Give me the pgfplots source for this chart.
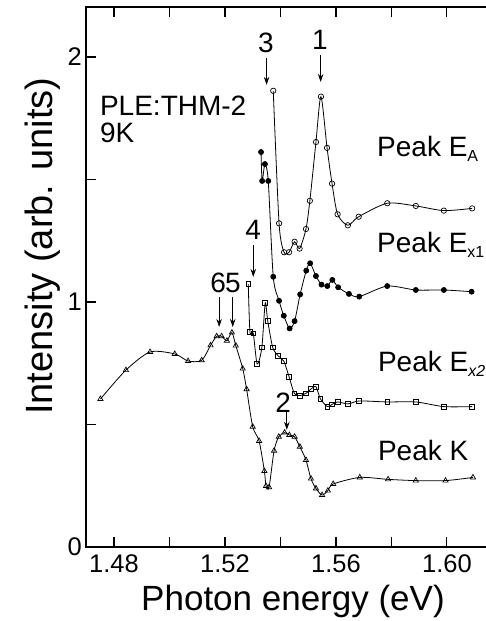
\documentclass[border=0pt]{standalone}
\usepackage{fontspec}
\setmainfont{Liberation Sans}
\usepackage{pgfplots}
\usepackage{pgfplotstable}
\pgfplotsset{compat=1.18}
\usetikzlibrary{arrows.meta}

\pgfplotstableread{
x y
1.5374 1.862
1.5395 1.321
1.5413 1.203
1.5431 1.203
1.5451 1.246
1.5469 1.218
1.5492 1.298
1.5506 1.413
1.5528 1.653
1.5546 1.838
1.5568 1.629
1.5586 1.483
1.5606 1.358
1.5643 1.313
1.5682 1.348
1.5785 1.403
1.5888 1.392
1.5989 1.373
1.6091 1.382
}\dataEA

\pgfplotstableread{
x y
1.5330 1.612
1.5334 1.494
1.5344 1.563
1.5356 1.494
1.5374 1.103
1.5395 1.005
1.5412 0.944
1.5433 0.892
1.5451 0.922
1.5471 1.031
1.5493 1.128
1.5507 1.158
1.5528 1.106
1.5548 1.071
1.5569 1.065
1.5587 1.090
1.5608 1.060
1.5647 1.033
1.5684 1.022
1.5785 1.065
1.5888 1.049
1.5989 1.049
1.6089 1.042
}\dataEx

\pgfplotstableread{
x y
1.5284 1.073
1.5290 0.879
1.5302 0.872
1.5316 0.747
1.5333 0.815
1.5345 0.995
1.5354 0.924
1.5372 0.815
1.5392 0.780
1.5412 0.759
1.5431 0.695
1.5450 0.627
1.5469 0.618
1.5492 0.627
1.5510 0.645
1.5528 0.654
1.5544 0.605
1.5569 0.573
1.5586 0.582
1.5606 0.592
1.5644 0.584
1.5684 0.596
1.5785 0.592
1.5888 0.592
1.5989 0.573
1.6091 0.573
}\dataExb

\pgfplotstableread{
x y
1.4751 0.604
1.4843 0.722
1.4930 0.796
1.5019 0.788
1.5067 0.759
1.5116 0.762
1.5148 0.823
1.5170 0.860
1.5188 0.860
1.5207 0.842
1.5225 0.875
1.5239 0.822
1.5264 0.728
1.5278 0.644
1.5300 0.491
1.5323 0.433
1.5342 0.310
1.5348 0.249
1.5359 0.244
1.5377 0.393
1.5394 0.450
1.5415 0.467
1.5432 0.457
1.5451 0.450
1.5470 0.409
1.5492 0.355
1.5510 0.279
1.5528 0.239
1.5550 0.212
1.5571 0.230
1.5590 0.257
1.5686 0.284
1.5788 0.276
1.5888 0.271
1.5995 0.271
1.6094 0.284
}\dataK

\newcommand{\ann}{\fontsize{28}{30}\selectfont}
\newcommand{\sub}[1]{\raisebox{-5pt}{\fontsize{16}{16}\selectfont #1}}

\begin{document}
\begin{tikzpicture}
\begin{axis}[
  scale only axis, width=400pt, height=540pt,
  at={(0,0)}, anchor=south west,
  xmin=1.4699, xmax=1.6141, ymin=0, ymax=2.204,
  axis line style={draw=none},
  xtick={1.48,1.50,1.52,1.54,1.56,1.58,1.60},
  xticklabels={1.48,,1.52,,1.56,,1.60},
  ytick={0,0.5,1,1.5,2},
  yticklabels={0,,1,,2},
  xtick pos=both, ytick pos=left,
  xticklabel pos=lower,
  tick align=inside,
  major tick length=10pt,
  tick style={line width=1.2pt, black},
  tick label style={font=\fontsize{25.5}{26}\selectfont},
  xticklabel style={yshift=-4pt},
  yticklabel style={inner sep=0pt, xshift=-4pt},
  /pgf/number format/assume math mode=true,
  xlabel={Photon energy (eV)},
  ylabel={Intensity (arb. units)},
  xlabel style={font=\fontsize{35}{36}\selectfont, at={(axis description cs:0.5175,0)}, anchor=base, yshift=-63pt},
  ylabel style={font=\fontsize{38}{40}\selectfont, at={(axis description cs:0,0.557)}, anchor=base, yshift=33pt},
  clip=false,
]
\draw[line width=2.6pt, line cap=rect] (rel axis cs:1,1) -- (rel axis cs:0,1) -- (rel axis cs:0,0) -- (rel axis cs:1,0);

\addplot[black, line width=0.8pt, smooth, tension=0.45, mark=o, mark size=2.7pt, mark options={fill=white, line width=0.7pt}] table {\dataEA};
\addplot[black, line width=0.8pt, smooth, tension=0.45, mark=*, mark size=2.5pt] table {\dataEx};
\addplot[black, line width=0.8pt, smooth, tension=0.45, mark=square, mark size=2.4pt, mark options={fill=white, line width=0.7pt}] table {\dataExb};
\addplot[black, line width=0.8pt, smooth, tension=0.45, mark=triangle, mark size=3pt, mark options={fill=white, line width=0.7pt}] table {\dataK};

% arrows
\draw[line width=1pt, -{Stealth[length=8pt,width=5.5pt]}] (axis cs:1.5350,1.996) -- (axis cs:1.5350,1.886);
\draw[line width=1pt, -{Stealth[length=8pt,width=5.5pt]}] (axis cs:1.5545,2.008) -- (axis cs:1.5545,1.898);
\draw[line width=1pt, -{Stealth[length=8pt,width=5.5pt]}] (axis cs:1.5302,1.233) -- (axis cs:1.5302,1.102);
\draw[line width=1pt, -{Stealth[length=8pt,width=5.5pt]}] (axis cs:1.5179,1.020) -- (axis cs:1.5179,0.898);
\draw[line width=1pt, -{Stealth[length=8pt,width=5.5pt]}] (axis cs:1.5228,1.020) -- (axis cs:1.5228,0.898);
\draw[line width=1pt, -{Stealth[length=8pt,width=5.5pt]}] (axis cs:1.5423,0.551) -- (axis cs:1.5423,0.478);

\node[font=\ann, inner sep=0pt] at (axis cs:1.5348,2.059) {3};
\node[font=\ann, inner sep=0pt] at (axis cs:1.5542,2.069) {1};
\node[font=\ann, inner sep=0pt] at (axis cs:1.5302,1.294) {4};
\node[font=\ann, inner sep=0pt] at (axis cs:1.5175,1.078) {6};
\node[font=\ann, inner sep=0pt] at (axis cs:1.5229,1.078) {5};
\node[font=\ann, inner sep=0pt] at (axis cs:1.5410,0.590) {2};

\node[font=\ann, inner sep=0pt, anchor=base west] at (axis cs:1.4749,1.763) {PLE:THM-2};
\node[font=\ann, inner sep=0pt, anchor=base west] at (axis cs:1.4749,1.649) {9K};

\node[font=\ann, inner sep=0pt, anchor=base west] at (axis cs:1.5748,1.592) {Peak E\sub{A}};
\node[font=\ann, inner sep=0pt, anchor=base west] at (axis cs:1.5748,1.204) {Peak E\sub{x1}};
\node[font=\ann, inner sep=0pt, anchor=base west] at (axis cs:1.5751,0.716) {Peak E\sub{\itshape x2}};
\node[font=\ann, inner sep=0pt, anchor=base west] at (axis cs:1.5751,0.355) {Peak K};
\end{axis}
\pgfresetboundingbox
\path[use as bounding box] (-86pt,-74pt) rectangle (400pt,547pt);
\end{tikzpicture}
\end{document}
